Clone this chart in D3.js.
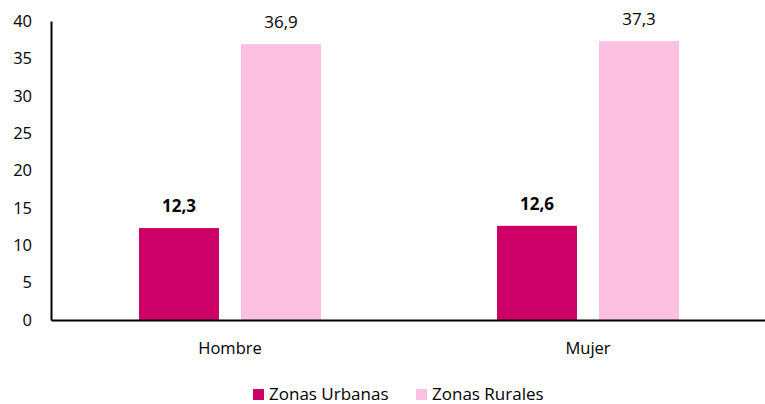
<!DOCTYPE html>
<html>
<head>
<meta charset="utf-8">
<script src="https://cdn.jsdelivr.net/npm/d3@7"></script>
<style>
  body { margin: 0; background: #fff; }
  svg text { font-family: "Open Sans", "Noto Sans", sans-serif; fill: #000; }
</style>
</head>
<body>
<svg id="chart" width="765" height="404"></svg>
<script>
var categories = ["Hombre", "Mujer"];
var seriesNames = ["Zonas Urbanas", "Zonas Rurales"];
var urbanValues = [12.3, 12.6];
var ruralValues = [36.9, 37.3];
var yTicks = [0, 5, 10, 15, 20, 25, 30, 35, 40];

var colors = { "Zonas Urbanas": "#cc0066", "Zonas Rurales": "#fdc0e0" };

var svg = d3.select("#chart"),
  MARGINS = { top: 21, right: 0, bottom: 84, left: 51 },
  WIDTH = 767,
  HEIGHT = 404;

var rows = categories.map(function(c, i) {
  return { cat: c, values: [
    { key: seriesNames[0], value: urbanValues[i] },
    { key: seriesNames[1], value: ruralValues[i] }
  ]};
});

var x0 = d3.scaleBand().domain(categories).range([MARGINS.left, WIDTH]).padding(0);
var x1 = d3.scaleBand().domain(seriesNames).range([0, x0.bandwidth()])
  .paddingInner(0.216).paddingOuter(0.863);
var yScale = d3.scaleLinear().domain([0, 40]).range([HEIGHT - MARGINS.bottom, MARGINS.top]);

// y axis
var yAxis = d3.axisLeft(yScale).tickValues(yTicks).tickSize(0).tickPadding(19);
var gy = svg.append("g")
  .attr("transform", "translate(" + MARGINS.left + ",0)")
  .call(yAxis);
gy.select(".domain").attr("stroke", "#000").attr("stroke-width", 2);
gy.selectAll("text").style("font-size", "16.5px");

// bars
var groups = svg.selectAll(".grp").data(rows).enter().append("g")
  .attr("class", "grp")
  .attr("transform", function(d) { return "translate(" + x0(d.cat) + ",0)"; });

groups.selectAll("rect").data(function(d) { return d.values; }).enter().append("rect")
  .attr("x", function(d) { return x1(d.key); })
  .attr("width", x1.bandwidth())
  .attr("y", function(d) { return yScale(d.value); })
  .attr("height", function(d) { return yScale(0) - yScale(d.value); })
  .attr("fill", function(d) { return colors[d.key]; });

groups.selectAll(".lbl").data(function(d) { return d.values; }).enter().append("text")
  .attr("class", "lbl")
  .attr("x", function(d) { return x1(d.key) + x1.bandwidth() / 2; })
  .attr("y", function(d) { return yScale(d.value) - 16; })
  .attr("text-anchor", "middle")
  .style("font-size", "17px")
  .style("font-weight", function(d) { return d.key === seriesNames[0] ? "bold" : "normal"; })
  .text(function(d) { return d3.format(".1f")(d.value).replace(".", ","); });

// x axis
var xAxis = d3.axisBottom(x0).tickSize(0).tickPadding(22);
var gx = svg.append("g")
  .attr("transform", "translate(0," + yScale(0) + ")")
  .call(xAxis);
gx.select(".domain").attr("stroke", "#000").attr("stroke-width", 2);
gx.selectAll("text").style("font-size", "16.5px");

// legend
var legendX = [253, 416];
var legend = svg.selectAll(".leg").data(seriesNames).enter().append("g")
  .attr("class", "leg")
  .attr("transform", function(d, i) { return "translate(" + legendX[i] + ",389)"; });
legend.append("rect").attr("width", 11).attr("height", 11)
  .attr("fill", function(d) { return colors[d]; });
legend.append("text").attr("x", 16).attr("y", 11)
  .style("font-size", "17px")
  .text(function(d) { return d; });
</script>
</body>
</html>
